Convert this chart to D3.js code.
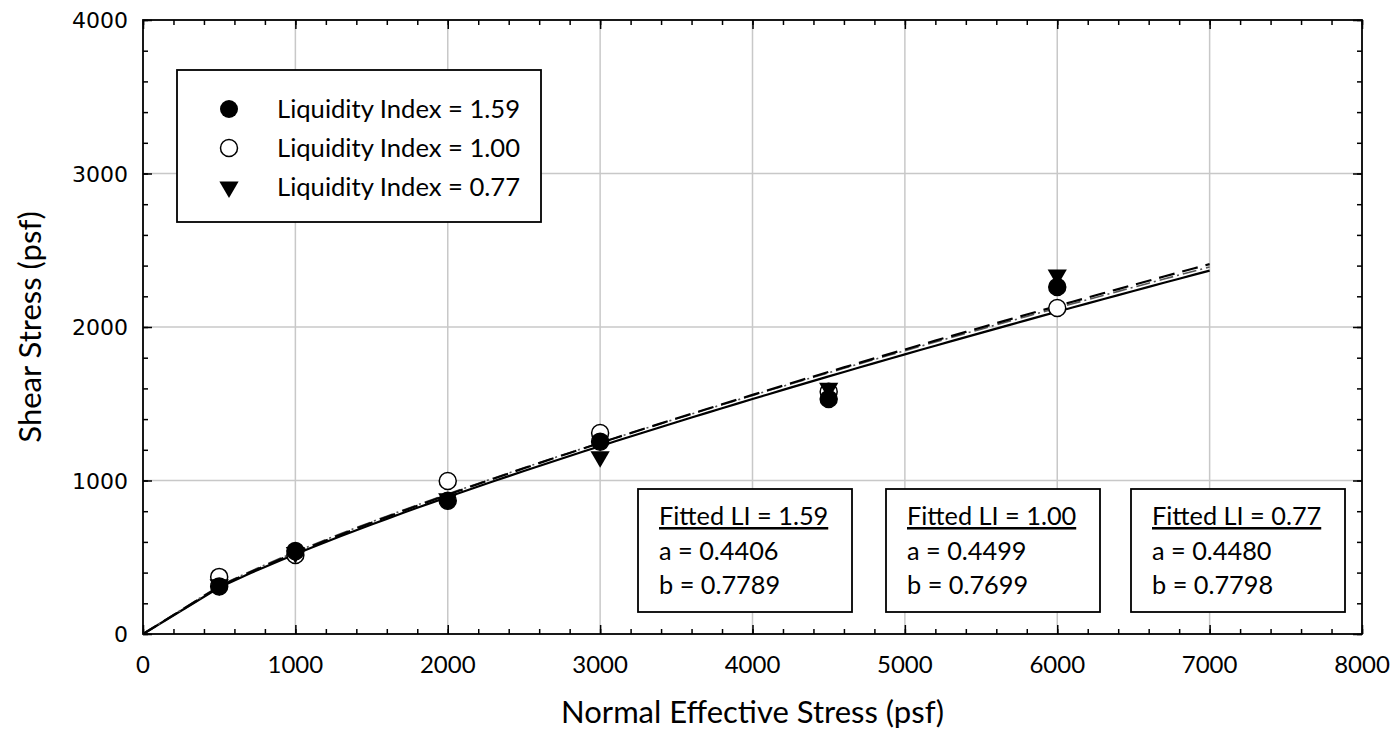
<!DOCTYPE html>
<html>
<head>
<meta charset="utf-8">
<script src="https://cdn.jsdelivr.net/npm/d3@7/dist/d3.min.js"></script>
<style>
  html, body { margin: 0; padding: 0; background: #fff; }
  svg { display: block; }
</style>
</head>
<body>
<svg id="chart" width="1399" height="748"></svg>
<script>
// ---------------- data ----------------
const normalStress = [500, 1000, 2000, 3000, 4500, 6000];
const shearLI159 = [310, 540, 868, 1253, 1531, 2261];
const shearLI100 = [372, 515, 997, 1309, 1578, 2124];
const shearLI077 = [320, 530, 880, 1155, 1600, 2339];

const seriesNames = ["Liquidity Index = 1.59", "Liquidity Index = 1.00", "Liquidity Index = 0.77"];
const fitTitles = ["Fitted LI = 1.59", "Fitted LI = 1.00", "Fitted LI = 0.77"];
const fitA = [0.4406, 0.4499, 0.4480];
const fitB = [0.7789, 0.7699, 0.7798];
const atmPressure = 2116; // psf
const fitStress = [0].concat(d3.range(500, 7001, 100)); // stresses at which the fits were tabulated

const xTicks = [0, 1000, 2000, 3000, 4000, 5000, 6000, 7000, 8000];
const yTicks = [0, 1000, 2000, 3000, 4000];

// ---------------- layout ----------------
const svg = d3.select("#chart");
const L = 143, R = 1362, T = 20, B = 634;
const x = d3.scaleLinear().domain([0, 8000]).range([L, R]);
const y = d3.scaleLinear().domain([0, 4000]).range([B, T]);
const FONT = "Lato, 'Open Sans', sans-serif";

// gridlines
const grid = svg.append("g").attr("stroke", "#c8c8c8").attr("stroke-width", 1.5);
xTicks.slice(1, -1).forEach(v => grid.append("line")
  .attr("x1", x(v)).attr("x2", x(v)).attr("y1", T).attr("y2", B));
yTicks.slice(1, -1).forEach(v => grid.append("line")
  .attr("y1", y(v)).attr("y2", y(v)).attr("x1", L).attr("x2", R));

// axes (ticks inward on all four sides)
const minorX = d3.range(0, 8001, 200);
const minorY = d3.range(0, 4001, 200);
function axisStyle(g) {
  g.select(".domain").remove();
  g.selectAll("line").attr("stroke", "#000").attr("stroke-width", 1.5);
}
svg.append("g").attr("transform", `translate(0,${B})`)
  .call(d3.axisBottom(x).tickValues(minorX).tickSize(-5).tickFormat("")).call(axisStyle);
svg.append("g").attr("transform", `translate(0,${B})`)
  .call(d3.axisBottom(x).tickValues(xTicks).tickSize(-9).tickFormat("")).call(axisStyle);
svg.append("g").attr("transform", `translate(0,${T})`)
  .call(d3.axisTop(x).tickValues(minorX).tickSize(-5).tickFormat("")).call(axisStyle);
svg.append("g").attr("transform", `translate(0,${T})`)
  .call(d3.axisTop(x).tickValues(xTicks).tickSize(-9).tickFormat("")).call(axisStyle);
svg.append("g").attr("transform", `translate(${L},0)`)
  .call(d3.axisLeft(y).tickValues(minorY).tickSize(-5).tickFormat("")).call(axisStyle);
svg.append("g").attr("transform", `translate(${L},0)`)
  .call(d3.axisLeft(y).tickValues(yTicks).tickSize(-9).tickFormat("")).call(axisStyle);
svg.append("g").attr("transform", `translate(${R},0)`)
  .call(d3.axisRight(y).tickValues(minorY).tickSize(-5).tickFormat("")).call(axisStyle);
svg.append("g").attr("transform", `translate(${R},0)`)
  .call(d3.axisRight(y).tickValues(yTicks).tickSize(-9).tickFormat("")).call(axisStyle);

// frame
svg.append("rect").attr("x", L).attr("y", T).attr("width", R - L).attr("height", B - T)
  .attr("fill", "none").attr("stroke", "#000").attr("stroke-width", 1.8);

// tick labels
svg.append("g").selectAll("text").data(xTicks).join("text")
  .attr("x", d => x(d)).attr("y", 673).attr("text-anchor", "middle")
  .attr("font-family", FONT).attr("font-size", 24).attr("fill", "#000").text(d => d);
svg.append("g").selectAll("text").data(yTicks).join("text")
  .attr("x", 128).attr("y", d => y(d) + 8).attr("text-anchor", "end")
  .attr("font-family", "'DejaVu Sans', Verdana, sans-serif").attr("font-size", 22).attr("fill", "#000").text(d => d);

// axis titles
svg.append("text").attr("x", x(4000)).attr("y", 723).attr("text-anchor", "middle")
  .attr("font-family", FONT).attr("font-size", 31).attr("fill", "#000")
  .text("Normal Effective Stress (psf)");
svg.append("text").attr("transform", `translate(41,${(T + B) / 2}) rotate(-90)`)
  .attr("text-anchor", "middle").attr("font-family", FONT).attr("font-size", 31).attr("fill", "#000")
  .text("Shear Stress (psf)");

// fitted curves
const line = d3.line().x(d => x(d[0])).y(d => y(d[1]));
const curveStyles = [
  { dash: null, width: 2.2, color: "#000" },
  { dash: "14,4,2,4", width: 1.6, color: "#555" },
  { dash: "16,8", width: 2.2, color: "#000" }
];
fitA.forEach((a, i) => {
  const pts = fitStress.map(s => [s, a * atmPressure * Math.pow(s / atmPressure, fitB[i])]);
  svg.append("path").datum(pts).attr("d", line).attr("fill", "none")
    .attr("stroke", curveStyles[i].color).attr("stroke-width", curveStyles[i].width)
    .attr("stroke-dasharray", curveStyles[i].dash);
});

// markers
const tri = d3.symbol().type(d3.symbolTriangle).size(160);
function drawCircles(vals, fill) {
  svg.append("g").selectAll("circle").data(vals).join("circle")
    .attr("cx", (d, i) => x(normalStress[i])).attr("cy", d => y(d)).attr("r", 8.5)
    .attr("fill", fill).attr("stroke", "#000").attr("stroke-width", 1.5);
}
drawCircles(shearLI100, "#fff");
drawCircles(shearLI159, "#000");
svg.append("g").selectAll("path").data(shearLI077).join("path")
  .attr("d", tri)
  .attr("transform", (d, i) => `translate(${x(normalStress[i])},${y(d)}) rotate(180)`)
  .attr("fill", "#000");

// legend
const lg = svg.append("g");
lg.append("rect").attr("x", 177).attr("y", 70).attr("width", 364).attr("height", 152)
  .attr("fill", "#fff").attr("stroke", "#000").attr("stroke-width", 1.8);
const legRows = [109, 148, 187];
seriesNames.forEach((name, i) => {
  const cy = legRows[i];
  if (i === 0) lg.append("circle").attr("cx", 229).attr("cy", cy).attr("r", 9).attr("fill", "#000");
  if (i === 1) lg.append("circle").attr("cx", 229).attr("cy", cy).attr("r", 8.5).attr("fill", "#fff").attr("stroke", "#000").attr("stroke-width", 1.5);
  if (i === 2) lg.append("path").attr("d", tri).attr("transform", `translate(229,${cy}) rotate(180)`).attr("fill", "#000");
  lg.append("text").attr("x", 277).attr("y", cy + 9).attr("font-family", FONT).attr("font-size", 25.6)
    .attr("fill", "#000").text(name);
});

// fitted parameter boxes
const boxX = [638, 886, 1131];
fitTitles.forEach((t, i) => {
  const g = svg.append("g").attr("transform", `translate(${boxX[i]},489)`);
  g.append("rect").attr("width", 214).attr("height", 123).attr("fill", "#fff")
    .attr("stroke", "#000").attr("stroke-width", 1.8);
  g.append("text").attr("x", 21).attr("y", 36).attr("font-family", FONT).attr("font-size", 25.3)
    .attr("fill", "#000").attr("text-decoration", "underline").text(t);
  g.append("text").attr("x", 21).attr("y", 71).attr("font-family", FONT).attr("font-size", 25.3)
    .attr("fill", "#000").text(`a = ${fitA[i].toFixed(4)}`);
  g.append("text").attr("x", 21).attr("y", 105).attr("font-family", FONT).attr("font-size", 25.3)
    .attr("fill", "#000").text(`b = ${fitB[i].toFixed(4)}`);
});
</script>
</body>
</html>
